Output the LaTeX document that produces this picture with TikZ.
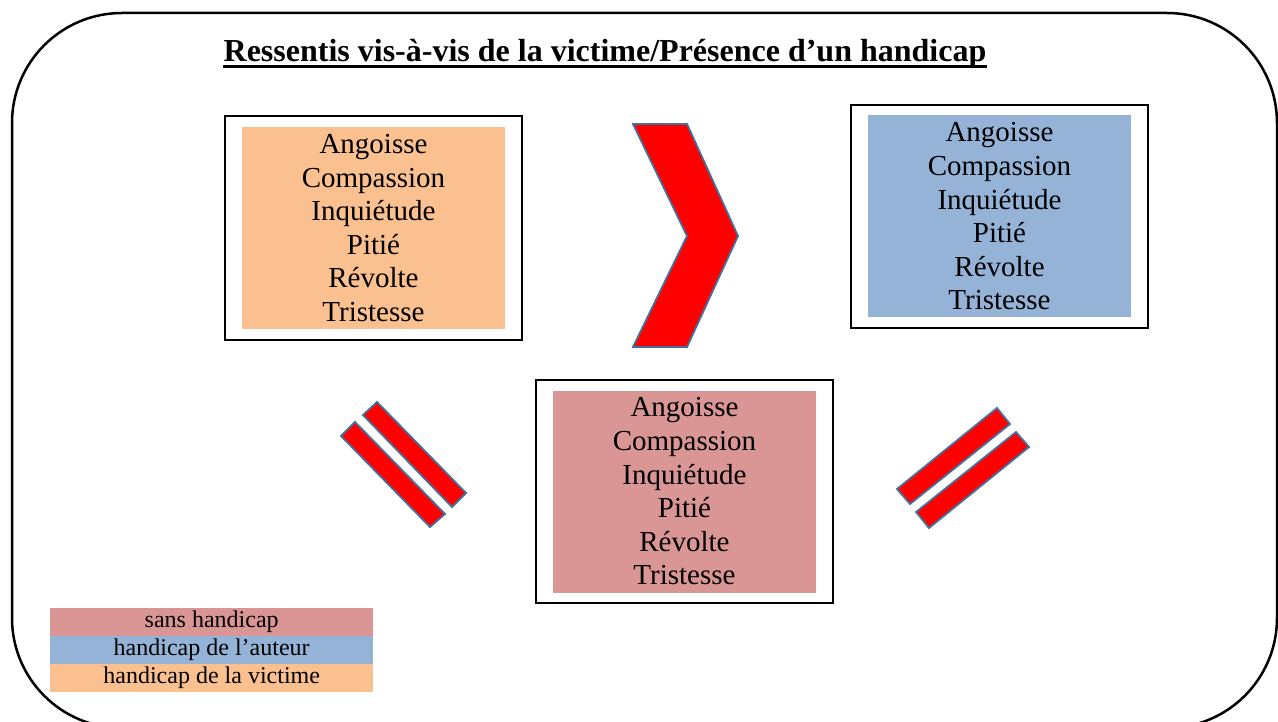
\documentclass[tikz,border=0pt]{standalone}
\usepackage{fontspec}
\setmainfont{Liberation Serif}
\usetikzlibrary{fit}
\definecolor{orangefill}{HTML}{FAC08F}
\definecolor{bluefill}{HTML}{95B3D7}
\definecolor{pinkfill}{HTML}{D99694}
\definecolor{shapeedge}{HTML}{41719C}
\tikzset{
  listbox/.style={inner sep=0pt, minimum width=263pt, minimum height=202pt, align=center,
    font=\fontsize{29}{33.6}\selectfont},
  framebox/.style={draw=black, line width=1.8pt, inner xsep=16.5pt, inner ysep=10.5pt},
  redshape/.style={fill=red, draw=shapeedge, line width=1.8pt, line join=miter},
  legendrow/.style={inner sep=0pt, minimum width=323pt, minimum height=27.6pt,
    font=\fontsize{24}{26}\selectfont, anchor=north west}
}
\begin{document}
\begin{tikzpicture}[x=1pt,y=-1pt]
\useasboundingbox (0,0) rectangle (1278,722);
% outer rounded frame
\draw[line width=2.5pt, rounded corners=110pt] (12,13) rectangle (1277,728);
% title
\node[inner sep=0pt, anchor=base, font=\fontsize{32}{36}\selectfont\bfseries] (title) at (605,62)
  {Ressentis vis-à-vis de la victime/Présence d’un handicap};
\draw[line width=2.4pt] ([yshift=-4.6pt]title.base west) -- ([yshift=-4.6pt]title.base east);
% boxes
\node[listbox, fill=orangefill] (victime) at (373.5,228)
  {Angoisse\\Compassion\\Inquiétude\\Pitié\\Révolte\\Tristesse};
\node[framebox, fit=(victime)] (victimeframe) {};
\node[listbox, fill=bluefill] (auteur) at (999.5,216.5)
  {Angoisse\\Compassion\\Inquiétude\\Pitié\\Révolte\\Tristesse};
\node[framebox, fit=(auteur)] (auteurframe) {};
\node[listbox, fill=pinkfill] (sans) at (684.5,491.5)
  {Angoisse\\Compassion\\Inquiétude\\Pitié\\Révolte\\Tristesse};
\node[framebox, fit=(sans)] (sansframe) {};
% chevron
\draw[redshape] (633,124) -- (687,124) -- (738,236) -- (687,347) -- (633,347) -- (687,236) -- cycle;
% left equal sign
\draw[redshape] (363,415) -- (377,402) -- (466,493) -- (452,507) -- cycle;
\draw[redshape] (341,436) -- (355,422) -- (445,514) -- (430,527) -- cycle;
% right equal sign
\draw[redshape] (897,489) -- (910,504) -- (1010,424) -- (997,408) -- cycle;
\draw[redshape] (916,512) -- (929,528) -- (1029,447) -- (1016,432) -- cycle;
% legend
\node[legendrow, fill=pinkfill] (leg1) at (50,608) {sans handicap};
\node[legendrow, fill=bluefill] (leg2) at (leg1.south west) {handicap de l’auteur};
\node[legendrow, fill=orangefill] (leg3) at (leg2.south west) {handicap de la victime};
\end{tikzpicture}
\end{document}
